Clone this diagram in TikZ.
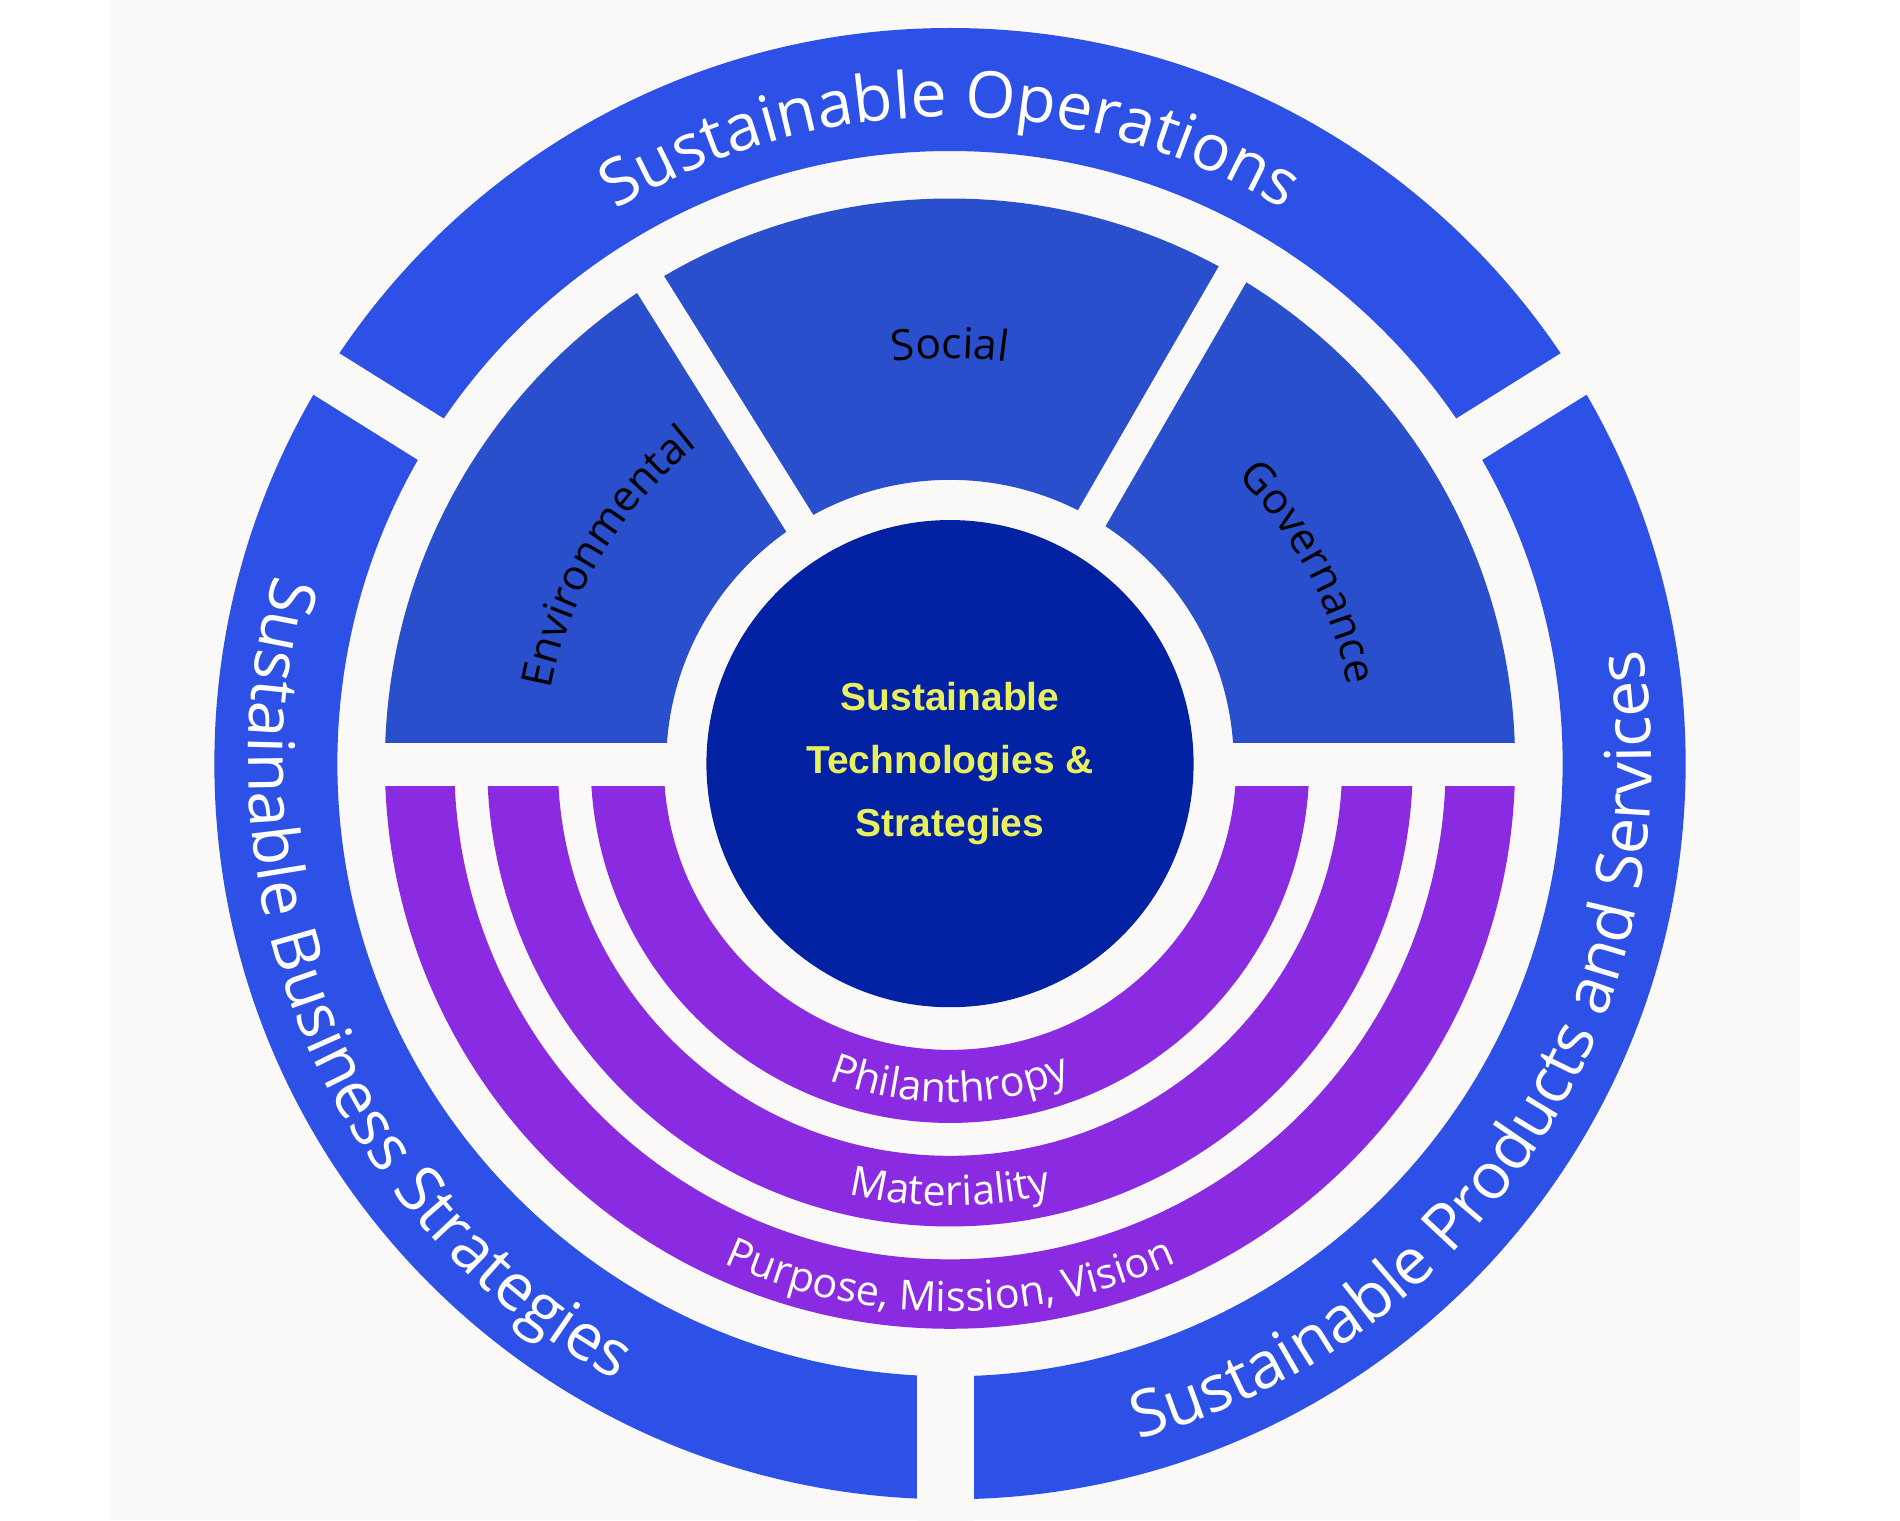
\documentclass[tikz,border=0pt]{standalone}
\usepackage{fontspec}
\newfontfamily\os{Open Sans}
\newfontfamily\lsb{Liberation Sans}
\usetikzlibrary{decorations.text}
\definecolor{bgc}{HTML}{FBF9F8}
\definecolor{outerblue}{HTML}{2D50E6}
\definecolor{esgblue}{HTML}{2A4FCD}
\definecolor{coreblue}{HTML}{0322A3}
\definecolor{purp}{HTML}{8A2BE2}
\definecolor{yel}{HTML}{E8F060}
\tikzset{
  gapline/.style={draw=bgc,line width=#1},
  arctext/.style n args={3}{decorate,decoration={text along path,text align=center,
     text={|\os\fontsize{#1}{#1}\selectfont\color{#2}|#3}}}
}
\begin{document}
\begin{tikzpicture}[x=1pt,y=1pt]
\useasboundingbox (0,0) rectangle (1560,1248);
\fill[white] (0,0) rectangle (1560,1248);
\fill[bgc] (90,0) rectangle (1478,1248);
\begin{scope}[shift={(780,621)}]
% outer ring
\fill[outerblue,even odd rule] (0,0) circle[radius=604] (0,0) circle[radius=503];
\draw[gapline=40] (148:480) -- (148:630);
\draw[gapline=40] (32:480) -- (32:630);
\fill[bgc] (-27,-480) rectangle (20,-640);
% ESG upper sectors
\fill[esgblue] (0:464) arc[start angle=0,end angle=180,radius=464] -- (180:233) arc[start angle=180,end angle=0,radius=233] -- cycle;
\draw[gapline=26] (122:200) -- (122:480);
\draw[gapline=26] (60:200) -- (60:480);
% purple lower rings
\begin{scope}
\clip (-480,-18) rectangle (480,-480);
\fill[purp,even odd rule] (0,0) circle[radius=464] (0,0) circle[radius=407];
\fill[purp,even odd rule] (0,0) circle[radius=380] (0,0) circle[radius=322];
\fill[purp,even odd rule] (0,0) circle[radius=295] (0,0) circle[radius=235];
\end{scope}
\fill[bgc] (-480,-18) rectangle (480,17);
% core
\node[circle,fill=coreblue,minimum size=400pt,inner sep=0pt,align=center,
  font=\lsb\bfseries\fontsize{32}{52}\selectfont,text=yel] (core) at (0,0)
  {Sustainable\\Technologies \&\\Strategies};
% texts
\path[arctext={53}{white}{Sustainable Operations}] (145:531) arc[start angle=145,end angle=35,radius=531];
\path[arctext={53}{white}{Sustainable Business Strategies}] (145:576) arc[start angle=145,end angle=261,radius=576];
\path[arctext={53}{white}{Sustainable Products and Services}] (-96:576) arc[start angle=-96,end angle=31,radius=576];
\path[arctext={34}{white}{Purpose, Mission, Vision}] (225:450) arc[start angle=225,end angle=315,radius=450];
\path[arctext={34}{white}{Materiality}] (225:363) arc[start angle=225,end angle=315,radius=363];
\path[arctext={34}{white}{Philanthropy}] (215:278) arc[start angle=215,end angle=325,radius=278];
\path[arctext={35}{black}{Environmental}] (185:333) arc[start angle=185,end angle=113,radius=333];
\path[arctext={35}{black}{Social}] (115:333) arc[start angle=115,end angle=65,radius=333];
\path[arctext={35}{black}{Governance}] (60:333) arc[start angle=60,end angle=-4,radius=333];
\end{scope}
\end{tikzpicture}
\end{document}
